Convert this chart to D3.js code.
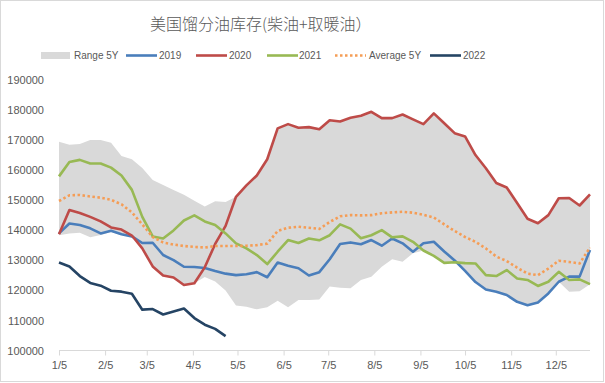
<!DOCTYPE html>
<meta charset="utf-8">
<style>
body { margin: 0; background: #fff; }
text { fill: #595959; font-family: "Liberation Sans", Arial, sans-serif; }
.title { font-family: "Noto Sans CJK SC", sans-serif; font-size: 16px; font-weight: 300; }
.tick text { font-size: 11px; }
.legend text { font-size: 10px; }
.series { fill: none; stroke-width: 2.6px; stroke-linejoin: round; }
</style>
<body>
<script src="https://d3js.org/d3.v7.min.js"></script>
<script>
// weekly points, first week 1/5, 52 weeks
var firstWeek = new Date(2022, 0, 5);
var weekCount = 52;
var tickMonths = [0,1,2,3,4,5,6,7,8,9,10,11];   // ticks on the 5th of each month
var yTicks = [100000,110000,120000,130000,140000,150000,160000,170000,180000,190000];

var rangeHigh = [169500,168500,168800,170100,170100,169200,164800,163700,160800,156800,155100,153500,151900,149900,148000,149700,149500,
  151200,155000,158300,163700,174000,175400,174200,174400,173700,176700,176300,177500,178200,179500,177400,177400,178600,177000,175400,179000,175700,172400,171300,165100,160700,155800,154300,149100,143900,142400,145100,150700,150800,148300,152000];
var rangeLow = [138400,139000,139200,137700,138500,139500,138500,138000,134000,128000,124800,124300,121800,122400,124500,123000,120000,
  115000,114600,113700,114400,116600,114400,116800,116800,117000,121300,120900,120700,123500,124600,127900,130400,129600,132400,133300,131500,129200,129400,126500,122800,120300,119600,118500,116200,115100,116000,119000,122900,119600,119700,122100];
var y2019 = [139000,142300,141800,140700,139000,139900,138700,138000,135800,135900,131800,130100,127900,127800,127500,126500,125600,
  125100,125400,126100,124400,129300,128200,127400,125000,126100,130400,135500,136000,135400,136800,134900,137300,135700,132900,135700,136200,133000,130000,126500,122800,120300,119600,118500,116200,115100,116000,119000,122900,124600,124600,133500];
var y2020 = [138700,146800,145800,144500,143000,141000,140300,138300,134000,128000,125000,124300,121800,122400,127700,135500,141500,
  151200,155000,158300,163700,174000,175400,174200,174400,173700,176700,176300,177500,178200,179500,177400,177400,178600,177000,175400,179000,175700,172400,171300,165100,160700,155800,154300,149100,143900,142400,145100,150700,150800,148300,152000];
var y2021 = [158000,162800,163500,162300,162300,160900,158300,153500,144500,138000,137300,140000,143300,145000,143000,141800,139000,
  135700,134000,131800,128800,132900,136800,135800,137300,136700,138400,142000,140600,137400,138400,140100,137700,138000,136200,133300,131500,129200,129400,129100,129000,125100,124800,126800,124000,123500,121500,122900,126200,123500,123700,122100];
var avg5y = [149800,151700,151800,151300,150900,150200,148700,146000,142000,137800,136000,135300,134800,134500,134300,134800,134800,
  134800,134900,135100,135600,139800,140900,141200,140900,140500,142800,144700,145100,145000,145100,145700,146000,146200,145900,145200,144300,142000,139800,137800,136200,134000,131300,129800,127600,125600,125100,127300,129900,129500,129000,134300];
var y2022 = [129300,128000,124800,122500,121600,119900,119600,118900,113600,113800,112000,113000,114000,110800,108600,107200,104800];

var width = 605, height = 383;

var dates = d3.range(weekCount).map(function(i) { return d3.timeDay.offset(firstWeek, 7 * i); });

var x = d3.scaleTime()
    .domain([dates[0], dates[dates.length - 1]])
    .range([59, 590]);

var y = d3.scaleLinear()
    .domain([100000, 190000])
    .range([350.5, 80.3]);

var svg = d3.select("body").append("svg")
    .attr("width", width)
    .attr("height", height);

svg.append("rect")
    .attr("x", 0.5).attr("y", 0.5)
    .attr("width", 603).attr("height", 381)
    .attr("fill", "#fff")
    .attr("stroke", "#d9d9d9");

svg.append("text")
    .attr("class", "title")
    .attr("x", 150)
    .attr("y", 30)
    .text("美国馏分油库存(柴油+取暖油）");

// 5 year range band
var area = d3.area()
    .x(function(d, i) { return x(dates[i]); })
    .y0(function(d, i) { return y(rangeLow[i]); })
    .y1(function(d) { return y(d); });

svg.append("path")
    .datum(rangeHigh)
    .attr("fill", "#d9d9d9")
    .attr("d", area);

// axes
var xAxis = svg.append("g")
    .attr("transform", "translate(0,350.5)")
    .call(d3.axisBottom(x)
      .tickValues(tickMonths.map(function(m) { return new Date(2022, m, 5); }))
      .tickFormat(d3.timeFormat("%-m/%-d"))
      .tickSize(5)
      .tickPadding(6));
xAxis.select(".domain").attr("stroke", "#d9d9d9").attr("d", "M59,0H590");
xAxis.selectAll(".tick line").attr("stroke", "#d9d9d9");
xAxis.selectAll(".tick text").attr("font-size", 12).attr("fill", "#595959");

var yAxis = svg.append("g")
    .attr("transform", "translate(44,0)")
    .call(d3.axisLeft(y).tickValues(yTicks).tickSize(0).tickPadding(0).tickFormat(d3.format("d")));
yAxis.select(".domain").remove();
yAxis.selectAll(".tick text").attr("font-size", 11).attr("fill", "#595959");

var line = d3.line()
    .x(function(d, i) { return x(dates[i]); })
    .y(function(d) { return y(d); });

var series = [
  { name: "2019", values: y2019, color: "#4a7ebb" },
  { name: "2020", values: y2020, color: "#be4b48" },
  { name: "2021", values: y2021, color: "#98b954" },
  { name: "Average 5Y", values: avg5y, color: "#f59d56", dash: "2.5,2.5" },
  { name: "2022", values: y2022, color: "#254464" }
];

series.forEach(function(s) {
  svg.append("path")
      .datum(s.values)
      .attr("class", "series")
      .attr("stroke", s.color)
      .attr("stroke-dasharray", s.dash || null)
      .attr("d", line);
});

// legend
var legend = svg.append("g").attr("class", "legend");
var legendItems = [
  { name: "Range 5Y", x: 41, textX: 74, swatch: true },
  { name: "2019", x: 126, textX: 159 },
  { name: "2020", x: 196, textX: 229 },
  { name: "2021", x: 267, textX: 299 },
  { name: "Average 5Y", x: 335, textX: 369, dash: "2.5,2.5" },
  { name: "2022", x: 430, textX: 463 }
];
legendItems.forEach(function(d) {
  var s = series.filter(function(e) { return e.name === d.name; })[0];
  if (d.swatch) {
    legend.append("rect")
        .attr("x", d.x).attr("y", 52)
        .attr("width", 29).attr("height", 7)
        .attr("fill", "#d9d9d9");
  } else {
    legend.append("line")
        .attr("x1", d.x).attr("x2", d.x + 31)
        .attr("y1", 55.5).attr("y2", 55.5)
        .attr("stroke", s.color)
        .attr("stroke-width", 2.6)
        .attr("stroke-dasharray", d.dash || null);
  }
  legend.append("text")
      .attr("x", d.textX)
      .attr("y", 59)
      .text(d.name);
});
</script>
</body>
